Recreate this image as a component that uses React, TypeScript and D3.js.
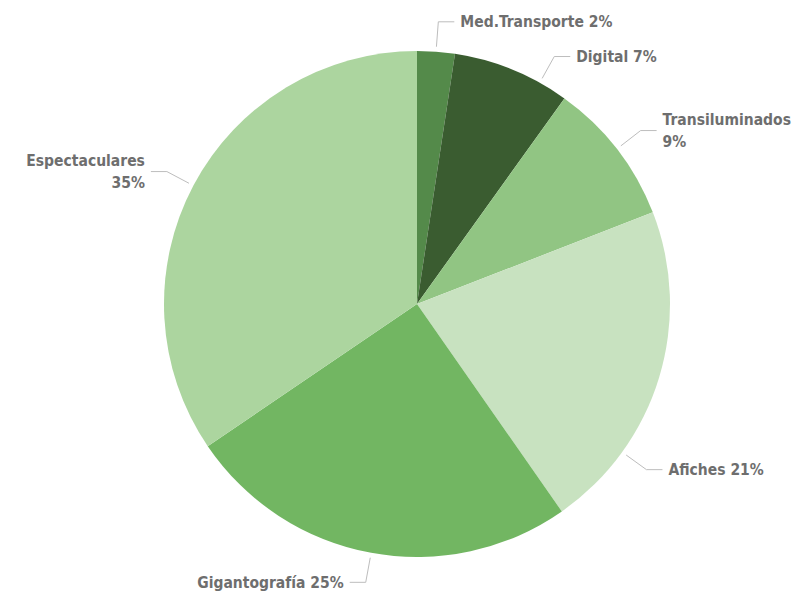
import { useRef, useEffect } from 'react';
import * as d3 from 'd3';

const categories = ['Med.Transporte', 'Digital', 'Transiluminados', 'Afiches', 'Gigantografía', 'Espectaculares'];
const values = [2.4, 7.5, 9.2, 21.2, 25.2, 34.5];
const percentLabels = ['2%', '7%', '9%', '21%', '25%', '35%'];
const colors = ['#548a4a', '#3a5c30', '#91c583', '#c8e2c0', '#72b662', '#acd59f'];

const App = () => {
  const ref = useRef<SVGSVGElement>(null);

  useEffect(() => {
    const svg = d3.select(ref.current);
    svg.selectAll('*').remove();

    const width = 802;
    const height = 592;
    const cx = 417;
    const cy = 304;
    const radius = 253;

    const pie = d3.pie<number>().sort(null).value(d => d);
    const arcs = pie(values);
    const arc = d3.arc<d3.PieArcDatum<number>>().innerRadius(0).outerRadius(radius);

    const g = svg.append('g').attr('transform', `translate(${cx},${cy})`);

    g.selectAll('path.slice')
      .data(arcs)
      .join('path')
      .attr('class', 'slice')
      .attr('d', arc)
      .attr('fill', (d, i) => colors[i]);

    // label placement: nudge a couple of angles like the original layout
    const nudge = [0, 0.12, 0, 0.33, 0, 0];
    const multiLine = [false, false, true, false, false, true];

    const labels = g.append('g')
      .attr('font-family', '"DejaVu Sans Condensed", sans-serif')
      .attr('font-weight', 'bold')
      .attr('font-size', 15.5)
      .attr('fill', '#6e6e6e');

    arcs.forEach((d, i) => {
      const a = (d.startAngle + d.endAngle) / 2 + nudge[i];
      const right = a < Math.PI;
      const p1 = [Math.sin(a) * (radius + 5), -Math.cos(a) * (radius + 5)];
      const p2 = [Math.sin(a) * (radius + 30), -Math.cos(a) * (radius + 30)];
      const p3 = [p2[0] + (right ? 16 : -16), p2[1]];

      g.append('polyline')
        .attr('points', [p1, p2, p3].map(p => p.join(',')).join(' '))
        .attr('fill', 'none')
        .attr('stroke', '#bdbdbd')
        .attr('stroke-width', 1);

      const tx = p3[0] + (right ? 6 : -6);
      const anchor = right ? 'start' : 'end';
      if (multiLine[i]) {
        labels.append('text')
          .attr('x', tx)
          .attr('y', p3[1] - 11)
          .attr('text-anchor', anchor)
          .attr('dy', '0.35em')
          .text(categories[i]);
        labels.append('text')
          .attr('x', tx)
          .attr('y', p3[1] + 11)
          .attr('text-anchor', anchor)
          .attr('dy', '0.35em')
          .text(percentLabels[i]);
      } else {
        labels.append('text')
          .attr('x', tx)
          .attr('y', p3[1])
          .attr('text-anchor', anchor)
          .attr('dy', '0.35em')
          .text(`${categories[i]} ${percentLabels[i]}`);
      }
    });

    svg.attr('width', width).attr('height', height);
  }, []);

  return (
    <svg ref={ref} width={802} height={592} style={{ position: 'absolute', left: 0, top: 0, background: '#fff' }} />
  );
};

export default App;
